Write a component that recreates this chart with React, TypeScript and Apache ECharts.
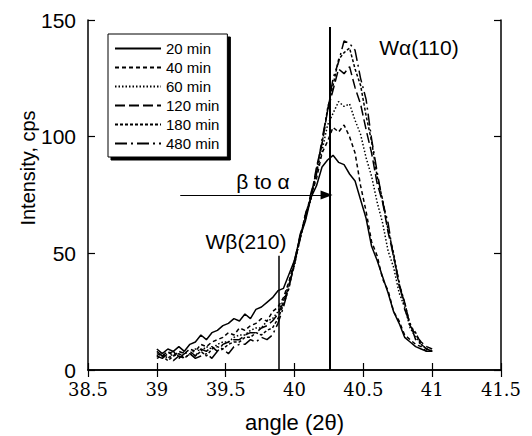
import React, { useEffect, useRef } from "react";
import * as echarts from "echarts";

const angles = [
  39.0, 39.04, 39.08, 39.12, 39.16, 39.2, 39.24, 39.28, 39.32, 39.36, 39.4, 39.44, 39.48,
  39.52, 39.56, 39.6, 39.64, 39.68, 39.72, 39.76, 39.8, 39.84, 39.88, 39.92, 39.96, 40.0,
  40.04, 40.08, 40.12, 40.16, 40.2, 40.24, 40.28, 40.32, 40.36, 40.4, 40.44, 40.48, 40.52,
  40.56, 40.6, 40.64, 40.68, 40.72, 40.76, 40.8, 40.84, 40.88, 40.92, 40.96, 41.0,
];

const min20 = [
  9, 7, 9, 8, 10, 8, 11, 12, 15, 13, 16, 17, 19, 20, 22, 21, 24, 22, 26, 27, 29, 31, 34, 35, 41,
  47, 57, 64, 74, 79, 87, 90, 92, 89, 88, 84, 81, 73, 65, 53, 47, 40, 33, 25, 20, 14, 12, 10, 9,
  8, 8,
];
const min40 = [
  7, 6, 8, 6, 8, 7, 9, 8, 11, 10, 12, 13, 14, 16, 15, 18, 17, 19, 20, 22, 21, 25, 27, 31, 38,
  47, 57, 65, 75, 82, 93, 98, 104, 102, 105, 100, 93, 79, 68, 55, 49, 39, 34, 25, 21, 15, 13,
  11, 10, 8, 8,
];
const min60 = [
  6, 7, 5, 7, 6, 8, 6, 9, 8, 10, 9, 11, 12, 12, 14, 15, 15, 17, 18, 18, 21, 22, 25, 30, 37, 45,
  56, 66, 73, 85, 94, 105, 110, 115, 113, 114, 107, 101, 91, 83, 72, 63, 51, 44, 33, 27, 18,
  14, 11, 9, 8,
];
const min120 = [
  8, 6, 7, 8, 5, 7, 8, 6, 9, 8, 10, 8, 11, 12, 13, 13, 15, 16, 16, 18, 19, 21, 24, 29, 36, 46,
  56, 67, 74, 87, 97, 111, 120, 129, 127, 130, 121, 114, 103, 93, 80, 72, 59, 49, 36, 29, 19,
  15, 12, 10, 9,
];
const min180 = [
  5, 6, 4, 6, 7, 5, 7, 6, 8, 6, 9, 10, 9, 11, 12, 12, 14, 14, 16, 15, 17, 18, 22, 28, 35, 47,
  56, 67, 74, 86, 97, 112, 122, 133, 136, 138, 129, 122, 109, 98, 83, 73, 60, 50, 37, 29, 19,
  16, 11, 9, 8,
];
const min480 = [
  6, 5, 7, 4, 6, 5, 7, 5, 6, 7, 5, 8, 9, 7, 10, 11, 11, 13, 12, 14, 13, 15, 20, 27, 36, 45, 58,
  65, 76, 84, 99, 111, 125, 132, 141, 140, 137, 125, 116, 99, 85, 72, 63, 48, 38, 26, 20, 13,
  11, 9, 8,
];

const seriesNames = ["20 min", "40 min", "60 min", "120 min", "180 min", "480 min"];
const seriesValues = [min20, min40, min60, min120, min180, min480];
const dashTypes: any[] = ["solid", [4, 3], [1.5, 2], [10, 4], [3, 2], [12, 4, 2, 4]];

const xTicks = { min: 38.5, max: 41.5, interval: 0.5 };
const yTicks = { min: 0, max: 150, interval: 50 };

const betaLineX = 39.885;
const betaLineTop = 49;
const alphaLineX = 40.253;
const alphaLineTop = 147;
const arrowStartX = 39.17;
const arrowY = 75;

export default function App() {
  const ref = useRef<HTMLDivElement>(null);
  useEffect(() => {
    if (!ref.current) return;
    const chart = echarts.init(ref.current, undefined, { renderer: "svg" });
    const sans = "Liberation Sans";
    const serif = "DejaVu Serif";
    const series: any[] = seriesNames.map((name, i) => ({
      name,
      type: "line",
      data: angles.map((a, j) => [a, seriesValues[i][j]]),
      showSymbol: false,
      symbol: "none",
      lineStyle: { color: "#000", width: 1.5, type: dashTypes[i] },
      itemStyle: { color: "#000" },
      z: 3,
    }));
    series.push({
      type: "line",
      name: "marks",
      data: [],
      silent: true,
      markLine: {
        silent: true,
        animation: false,
        label: { show: false },
        data: [
          [
            { coord: [betaLineX, 0], symbol: "none" },
            { coord: [betaLineX, betaLineTop], symbol: "none" },
          ],
          [
            { coord: [alphaLineX, 0], symbol: "none", lineStyle: { width: 2 } },
            { coord: [alphaLineX, alphaLineTop], symbol: "none" },
          ],
          [
            { coord: [arrowStartX, arrowY], symbol: "none", lineStyle: { width: 1 } },
            { coord: [alphaLineX - 0.02, arrowY], symbol: "triangle", symbolSize: [9, 12], symbolRotate: -90 },
          ],
        ],
        lineStyle: { color: "#000", type: "solid", width: 1.5 },
        itemStyle: { color: "#000" },
      },
    });
    chart.setOption({
      animation: false,
      backgroundColor: "#fff",
      grid: { left: 88, right: 31, top: 20, bottom: 66, containLabel: false, outerBoundsMode: "none" },
      legend: {
        data: seriesNames,
        orient: "vertical",
        left: 108,
        top: 34,
        itemWidth: 46,
        itemHeight: 12,
        itemGap: 4,
        padding: [7, 8, 6, 6],
        backgroundColor: "#fff",
        borderColor: "#000",
        borderWidth: 1,
        borderRadius: 0,
        shadowColor: "#000",
        shadowBlur: 0,
        shadowOffsetX: 3,
        shadowOffsetY: 3,
        itemStyle: { opacity: 0 },
        textStyle: { fontFamily: sans, fontSize: 15, color: "#000" },
      },
      xAxis: [
        {
          type: "value",
          ...xTicks,
          axisLine: { lineStyle: { color: "#000", width: 1.5 } },
          axisTick: { inside: true, length: 7, lineStyle: { color: "#000", width: 1.2 } },
          axisLabel: { fontFamily: serif, fontSize: 18, color: "#000", margin: 10 },
          splitLine: { show: false },
          name: "angle (2θ)",
          nameLocation: "middle",
          nameGap: 41,
          nameTextStyle: { fontFamily: sans, fontSize: 22, color: "#000" },
        },
        {
          type: "value",
          position: "top",
          ...xTicks,
          axisLine: { lineStyle: { color: "#000", width: 1.5 } },
          axisTick: { inside: true, length: 7, lineStyle: { color: "#000", width: 1.2 } },
          axisLabel: { show: false },
          splitLine: { show: false },
        },
      ],
      yAxis: [
        {
          type: "value",
          ...yTicks,
          axisLine: { show: true, lineStyle: { color: "#000", width: 1.5 } },
          axisTick: { show: true, inside: true, length: 7, lineStyle: { color: "#000", width: 1.2 } },
          axisLabel: {
            fontFamily: sans,
            fontSize: 21,
            lineHeight: 14,
            padding: [0, 0, 6, 0],
            color: "#000",
            margin: 12,
          },
          splitLine: { show: false },
        },
        {
          type: "value",
          position: "right",
          ...yTicks,
          axisLine: { show: true, lineStyle: { color: "#000", width: 1.5 } },
          axisTick: { show: true, inside: true, length: 7, lineStyle: { color: "#000", width: 1.2 } },
          axisLabel: { show: false },
          splitLine: { show: false },
        },
      ],
      graphic: [
        {
          type: "text",
          x: 28,
          y: 168,
          rotation: Math.PI / 2,
          style: {
            text: "Intensity, cps",
            font: `20px ${sans}`,
            fill: "#000",
            align: "center",
            verticalAlign: "middle",
          },
        },
        {
          type: "text",
          x: 419,
          y: 47,
          style: { text: "Wα(110)", font: `21px ${sans}`, fill: "#000", align: "center", verticalAlign: "middle" },
        },
        {
          type: "text",
          x: 246,
          y: 241,
          style: { text: "Wβ(210)", font: `21px ${sans}`, fill: "#000", align: "center", verticalAlign: "middle" },
        },
        {
          type: "text",
          x: 263,
          y: 181,
          style: { text: "β to α", font: `21px ${sans}`, fill: "#000", align: "center", verticalAlign: "middle" },
        },
      ],
      series,
    });
    return () => chart.dispose();
  }, []);
  return <div ref={ref} style={{ position: "absolute", left: 0, top: 0, width: 532, height: 436 }} />;
}
